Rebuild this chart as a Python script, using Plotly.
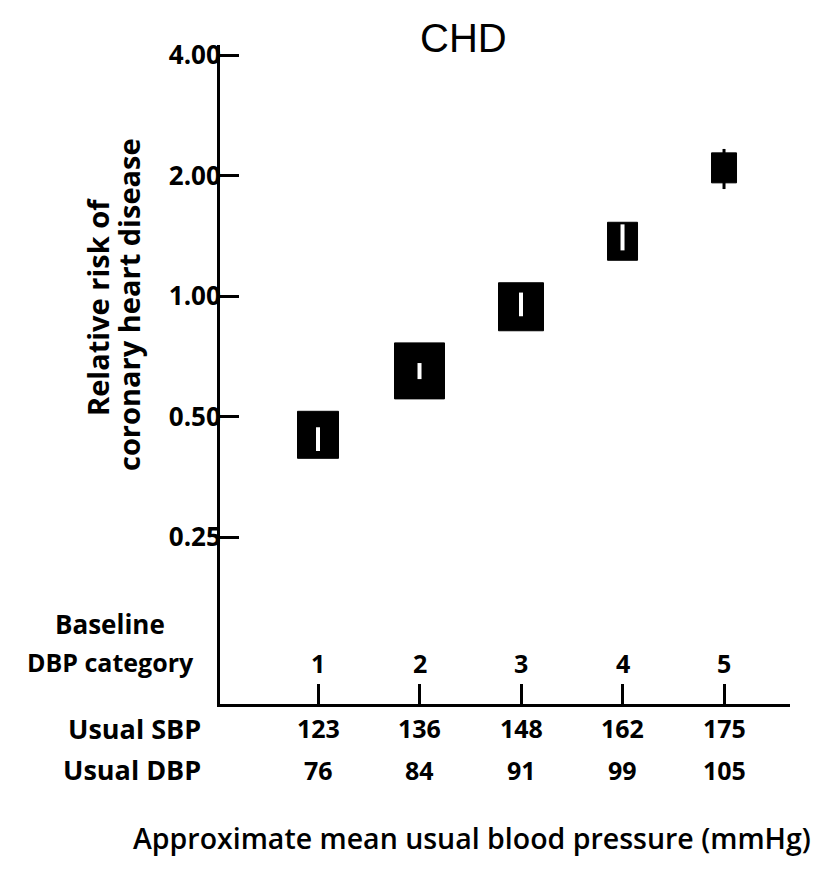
import plotly.graph_objects as go

# Baseline DBP categories and the usual blood pressure in each
categories = [1, 2, 3, 4, 5]
category_labels = ["1", "2", "3", "4", "5"]
usual_sbp = ["123", "136", "148", "162", "175"]
usual_dbp = ["76", "84", "91", "99", "105"]

# Relative risk of CHD with 95% confidence limits
relative_risk = [0.45, 0.65, 0.94, 1.37, 2.09]
ci_low = [0.41, 0.62, 0.89, 1.30, 1.85]
ci_high = [0.47, 0.68, 1.02, 1.51, 2.33]

# Y-axis tick values / labels
y_ticks = [0.25, 0.5, 1.0, 2.0, 4.0]
y_tick_labels = ["0.25", "0.50", "1.00", "2.00", "4.00"]

# Box size (px) for each estimate, width x height
box_w = [41, 50, 45, 30, 25]
box_h = [47, 56, 48, 38, 30]
# CI line colour: white when it sits inside the box, black when it sticks out
ci_color = ["white", "white", "white", "white", "black"]
ci_width = [4, 4, 4, 4, 3]

FONT = "Open Sans"
BOLD = dict(family=FONT, size=25, color="black", weight="bold")

# Figure geometry
W, H = 815, 873
M = dict(l=220, r=25, t=45, b=169)
Y_RANGE = [-1.01926, 0.62704]          # log10 units
plot_h = H - M["t"] - M["b"]
log_per_px = (Y_RANGE[1] - Y_RANGE[0]) / plot_h

fig = go.Figure()

# Black boxes for each estimate: width in pixels, height spread evenly in log space
for c, rr, w, h in zip(categories, relative_risk, box_w, box_h):
    factor = 10 ** (h / 2 * log_per_px)
    fig.add_shape(
        type="rect", xref="x", yref="y",
        xsizemode="pixel", xanchor=c,
        x0=-w / 2, x1=w / 2, y0=rr / factor, y1=rr * factor,
        fillcolor="black", line=dict(color="black", width=1),
        layer="below",
    )

# Confidence interval lines
for c, lo, hi, col, lw in zip(categories, ci_low, ci_high, ci_color, ci_width):
    fig.add_trace(go.Scatter(
        x=[c, c], y=[lo, hi], mode="lines",
        line=dict(color=col, width=lw),
        hoverinfo="skip", showlegend=False,
    ))

fig.update_layout(
    width=W, height=H,
    margin=M,
    paper_bgcolor="white", plot_bgcolor="white",
    showlegend=False,
    font=dict(family=FONT, color="black"),
)

fig.update_xaxes(
    range=[0.0345, 5.65],
    showgrid=False, zeroline=False,
    showline=True, linecolor="black", linewidth=3,
    tickmode="array", tickvals=categories, ticktext=[""] * len(categories),
    ticks="inside", ticklen=20, tickwidth=2.5, tickcolor="black",
)

fig.update_yaxes(
    type="log",
    range=Y_RANGE,
    showgrid=False, zeroline=False,
    showline=True, linecolor="black", linewidth=3,
    tickmode="array", tickvals=y_ticks, ticktext=y_tick_labels,
    ticks="inside", ticklen=19, tickwidth=2.5, tickcolor="black",
    tickfont=dict(BOLD, size=26),
    ticklabelstandoff=-9,
)

ann = []

def px_to_paper_y(p):
    return (H - M["b"] - p) / plot_h

def px_to_paper_x(p):
    return (p - M["l"]) / (W - M["l"] - M["r"])

# Category numbers above the axis, SBP and DBP below it
for c, lab, sbp, dbp in zip(categories, category_labels, usual_sbp, usual_dbp):
    ann.append(dict(x=c, xref="x", y=px_to_paper_y(663), yref="paper",
                    text=lab, showarrow=False, font=BOLD,
                    xanchor="center", yanchor="middle"))
    ann.append(dict(x=c, xref="x", y=px_to_paper_y(728), yref="paper",
                    text=sbp, showarrow=False, font=BOLD,
                    xanchor="center", yanchor="middle"))
    ann.append(dict(x=c, xref="x", y=px_to_paper_y(770), yref="paper",
                    text=dbp, showarrow=False, font=BOLD,
                    xanchor="center", yanchor="middle"))

# Row labels on the left
ann.append(dict(x=px_to_paper_x(110), xref="paper", y=px_to_paper_y(624), yref="paper",
                text="Baseline", showarrow=False, font=dict(BOLD, size=26),
                xanchor="center", yanchor="middle"))
ann.append(dict(x=px_to_paper_x(110), xref="paper", y=px_to_paper_y(662), yref="paper",
                text="DBP category", showarrow=False, font=BOLD,
                xanchor="center", yanchor="middle"))
ann.append(dict(x=px_to_paper_x(203), xref="paper", y=px_to_paper_y(728), yref="paper",
                text="Usual SBP", showarrow=False, font=dict(BOLD, size=27),
                xanchor="right", yanchor="middle"))
ann.append(dict(x=px_to_paper_x(203), xref="paper", y=px_to_paper_y(770), yref="paper",
                text="Usual DBP", showarrow=False, font=dict(BOLD, size=27),
                xanchor="right", yanchor="middle"))

# Y-axis title, two rotated lines
ann.append(dict(x=px_to_paper_x(97), xref="paper", y=px_to_paper_y(307), yref="paper",
                text="Relative risk of", showarrow=False, font=dict(BOLD, size=29),
                textangle=-90, xanchor="center", yanchor="middle"))
ann.append(dict(x=px_to_paper_x(128), xref="paper", y=px_to_paper_y(305), yref="paper",
                text="coronary heart disease", showarrow=False, font=dict(BOLD, size=29),
                textangle=-90, xanchor="center", yanchor="middle"))

# Title and bottom caption
ann.append(dict(x=px_to_paper_x(463), xref="paper", y=px_to_paper_y(38), yref="paper",
                text="CHD", showarrow=False,
                font=dict(family="Liberation Sans", size=40, color="black"),
                xanchor="center", yanchor="middle"))
ann.append(dict(x=px_to_paper_x(472), xref="paper", y=px_to_paper_y(838), yref="paper",
                text="Approximate mean usual blood pressure (mmHg)", showarrow=False,
                font=dict(family=FONT, size=28.5, color="black", weight=600),
                xanchor="center", yanchor="middle"))

fig.update_layout(annotations=ann)

fig.write_html("out.html")
